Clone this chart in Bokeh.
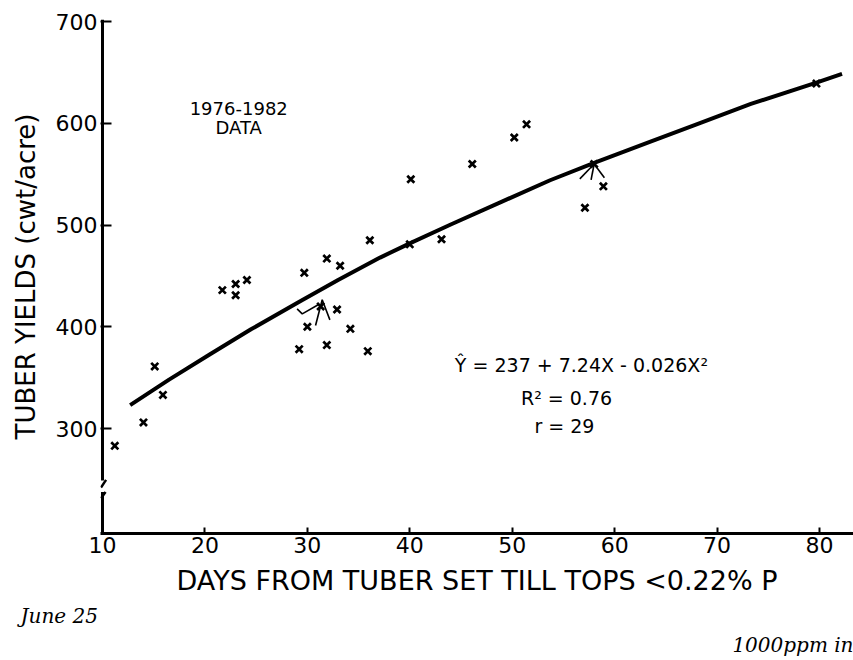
from bokeh.plotting import figure
from bokeh.models import Range1d, FixedTicker, Label, Title
from bokeh.embed import file_html
from bokeh.resources import INLINE

# ---- data ----
days = [11.2, 14.0, 15.1, 15.9,
        21.7, 23.0, 23.0, 24.1,
        29.7, 31.9, 33.2, 36.1, 40.0, 43.1,
        31.3, 32.9, 30.0, 34.2, 29.2, 31.9, 35.9,
        40.1, 46.1, 50.2, 51.4, 57.1, 58.9, 58.0,
        79.7]
yields = [283, 306, 361, 333,
          436, 442, 431, 446,
          453, 467, 460, 485, 481, 486,
          420, 417, 400, 398, 378, 382, 376,
          545, 560, 586, 599, 517, 538, 560,
          639]

curve_days = [12.7, 16.5, 20.5, 24.5, 29.3, 33.0, 37.1, 40.0, 44.0, 49.0,
              53.7, 58.0, 63.5, 68.0, 73.3, 79.7, 82.2]
curve_yields = [323, 348, 373, 397.5, 425, 446, 468, 482, 500.5, 523,
                544, 561, 582, 599, 619, 640, 648.5]

x_ticks = [10, 20, 30, 40, 50, 60, 70, 80]
y_ticks = [300, 400, 500, 600, 700]

FONT = "DejaVu Sans"

p = figure(width=853, height=660, output_backend="svg", toolbar_location=None,
           x_range=Range1d(9.805, 83.32), y_range=Range1d(196.8, 702),
           min_border_left=100, min_border_right=0, min_border_top=19,
           min_border_bottom=127)
p.outline_line_color = None
p.grid.visible = False
p.background_fill_color = "white"
p.border_fill_color = "white"

# x axis
xa = p.xaxis[0]
xa.ticker = FixedTicker(ticks=x_ticks)
xa.axis_line_width = 3
xa.axis_line_color = "black"
xa.major_tick_in = 6
xa.major_tick_out = 0
xa.major_tick_line_width = 2
xa.minor_tick_line_color = None
xa.major_label_text_font = FONT
xa.major_label_text_font_size = "22px"
xa.major_label_text_color = "black"
xa.major_label_standoff = 3
xa.axis_label = "DAYS FROM TUBER SET TILL TOPS <0.22% P"
xa.axis_label_text_font = FONT
xa.axis_label_text_font_size = "27px"
xa.axis_label_text_font_style = "normal"
xa.axis_label_text_color = "black"
xa.axis_label_standoff = 9

# y axis (line drawn by hand below to show the break)
ya = p.yaxis[0]
ya.ticker = FixedTicker(ticks=y_ticks)
ya.axis_line_color = None
ya.major_tick_in = 11
ya.major_tick_out = 0
ya.major_tick_line_width = 2
ya.minor_tick_line_color = None
ya.major_label_text_font = FONT
ya.major_label_text_font_size = "22px"
ya.major_label_text_color = "black"
ya.major_label_standoff = 3
ya.axis_label = "TUBER YIELDS (cwt/acre)"
ya.axis_label_text_font = FONT
ya.axis_label_text_font_size = "26px"
ya.axis_label_text_font_style = "normal"
ya.axis_label_text_color = "black"
ya.axis_label_standoff = 12

# broken y axis line
axis_x = 10
p.segment(x0=[axis_x, axis_x], y0=[702, 237.5], x1=[axis_x, axis_x], y1=[249, 196.8],
          line_color="black", line_width=3)
p.segment(x0=[9.85, 9.85], y0=[242.0, 231.5], x1=[10.35, 10.3], y1=[249.5, 237.5],
          line_color="black", line_width=2.5)

# fitted curve
p.line(curve_days, curve_yields, line_color="black", line_width=4)

# points
p.scatter(days, yields, marker="x", size=10, line_width=2.7, color="black")

# hand-drawn arrow marks
p.multi_line(xs=[[29.0, 29.5, 31.1], [30.8, 31.45, 32.2],
                 [58.0, 56.6], [58.0, 57.7], [58.0, 59.0]],
             ys=[[417.6, 412.7, 421.9], [401.2, 426.5, 406.8],
                 [560, 545.4], [560, 544.4], [560, 546.4]],
             line_color="black", line_width=1.6)

# texts
def lab(x, y, text, size, align="center"):
    p.add_layout(Label(x=x, y=y, text=text, text_align=align, text_baseline="middle",
                       text_font=FONT, text_font_size=size,
                       text_color="black"))

lab(23.3, 614.5, "1976-1982", "18px")
lab(23.3, 595.8, "DATA", "18px")
lab(44.4, 362.0, "Ŷ = 237 + 7.24X - 0.026X²", "19px", align="left")
lab(55.3, 330.0, "R² = 0.76", "19px")
lab(55.1, 302.0, "r = 29", "19px")

# handwritten notes under the chart
p.add_layout(Title(text="June 25", align="left", offset=-80, text_font="DejaVu Serif",
                   text_font_size="20px", text_font_style="italic", text_color="black",
                   standoff=6), "below")
p.add_layout(Title(text="1000ppm in", align="right", offset=0, text_font="DejaVu Serif",
                   text_font_size="20px", text_font_style="italic", text_color="black",
                   standoff=0), "below")

open("out.html", "w").write(file_html(p, INLINE))
